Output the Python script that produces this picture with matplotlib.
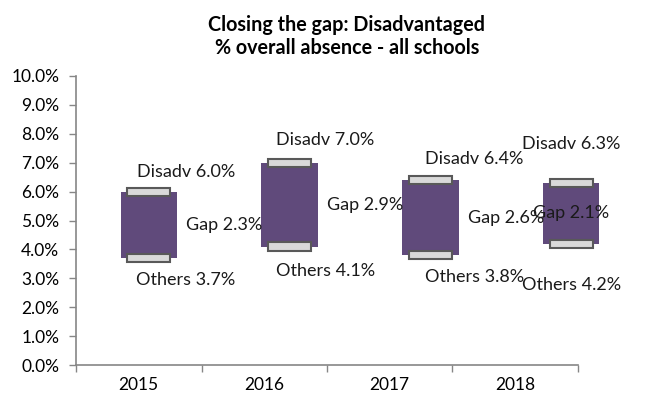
import matplotlib
matplotlib.use("Agg")
import matplotlib.pyplot as plt
import numpy as np

# ---- data ----
years = ["2015", "2016", "2017", "2018"]
disadv = [6.0, 7.0, 6.4, 6.3]
others = [3.7, 4.1, 3.8, 4.2]
gap = [2.3, 2.9, 2.6, 2.1]
y_ticks = [0, 1, 2, 3, 4, 5, 6, 7, 8, 9, 10]

# ---- label placement (pixels, style only) ----
lab_dx = [37, 36, 44, 0]
disadv_dy = [20, 23, 21, 39]
others_dy = [22, 24, 22, 41]
gap_dx = [37, 37, 38, -38]

plt.rcParams["font.family"] = ["Lato", "DejaVu Sans"]

W, H = 645, 400
fig = plt.figure(figsize=(W / 100, H / 100), dpi=100)

# main axes (category axis + value axis)
ax = fig.add_axes([76 / W, 1 - 365 / H, (578 - 76) / W, (365 - 76) / H])
ax.set_xlim(-0.5, len(years) - 0.5)
ax.set_ylim(0, 10)
ax.set_yticks(y_ticks)
ax.set_yticklabels([f"{v:.1f}%" for v in y_ticks])
ax.set_xticks(np.arange(len(years)))
ax.set_xticklabels(years)
ax.set_xticks(np.arange(-0.5, len(years)), minor=True)
ax.tick_params(axis="x", which="major", length=0, pad=9, labelsize=12.5)
ax.tick_params(axis="x", which="minor", length=5, color="#868686", width=1)
ax.tick_params(axis="y", length=5, color="#868686", width=1, pad=7, labelsize=12.5)
for s in ["top", "right"]:
    ax.spines[s].set_visible(False)
for s in ["left", "bottom"]:
    ax.spines[s].set_color("#868686")
    ax.spines[s].set_linewidth(1.2)
ax.patch.set_alpha(0)

# overlay axes for the floating bars (Excel up/down bars)
bx = fig.add_axes([78.5 / W, 1 - 365 / H, (641.5 - 78.5) / W, (365 - 76) / H])
bx.set_xlim(-0.5, len(years) - 0.5)
bx.set_ylim(0, 10)
bx.axis("off")
bx.patch.set_alpha(0)

x = np.arange(len(years))
bx.bar(x, np.array(disadv) - np.array(others), bottom=others, width=0.40,
       color="#604A7B", edgecolor="none", zorder=2)
cap_h = 0.28
for vals in (disadv, others):
    bx.bar(x, cap_h, bottom=np.array(vals) - cap_h / 2, width=0.305,
           color="#D9D9D9", edgecolor="#595959", linewidth=1.5, zorder=3)

fs = 13
for i in range(len(years)):
    bx.annotate(f"Disadv {disadv[i]:.1f}%", (x[i], disadv[i]),
                xytext=(lab_dx[i], disadv_dy[i]), textcoords="offset pixels",
                ha="center", va="center", fontsize=fs, color="#1a1a1a", zorder=5)
    bx.annotate(f"Others {others[i]:.1f}%", (x[i], others[i]),
                xytext=(lab_dx[i], -others_dy[i]), textcoords="offset pixels",
                ha="center", va="center", fontsize=fs, color="#1a1a1a", zorder=5)
    mid = (disadv[i] + others[i]) / 2
    bx.annotate(f"Gap {gap[i]:.1f}%", (x[i], mid),
                xytext=(gap_dx[i], 0), textcoords="offset pixels",
                ha="left", va="center", fontsize=fs, color="#1a1a1a", zorder=5)

fig.text(347 / W, 1 - 25 / H, "Closing the gap: Disadvantaged", ha="center",
         va="center", fontsize=14.2, fontweight="bold")
fig.text(347 / W, 1 - 48 / H, "% overall absence - all schools", ha="center",
         va="center", fontsize=14.2, fontweight="bold")

fig.savefig("out.png", dpi=100)
